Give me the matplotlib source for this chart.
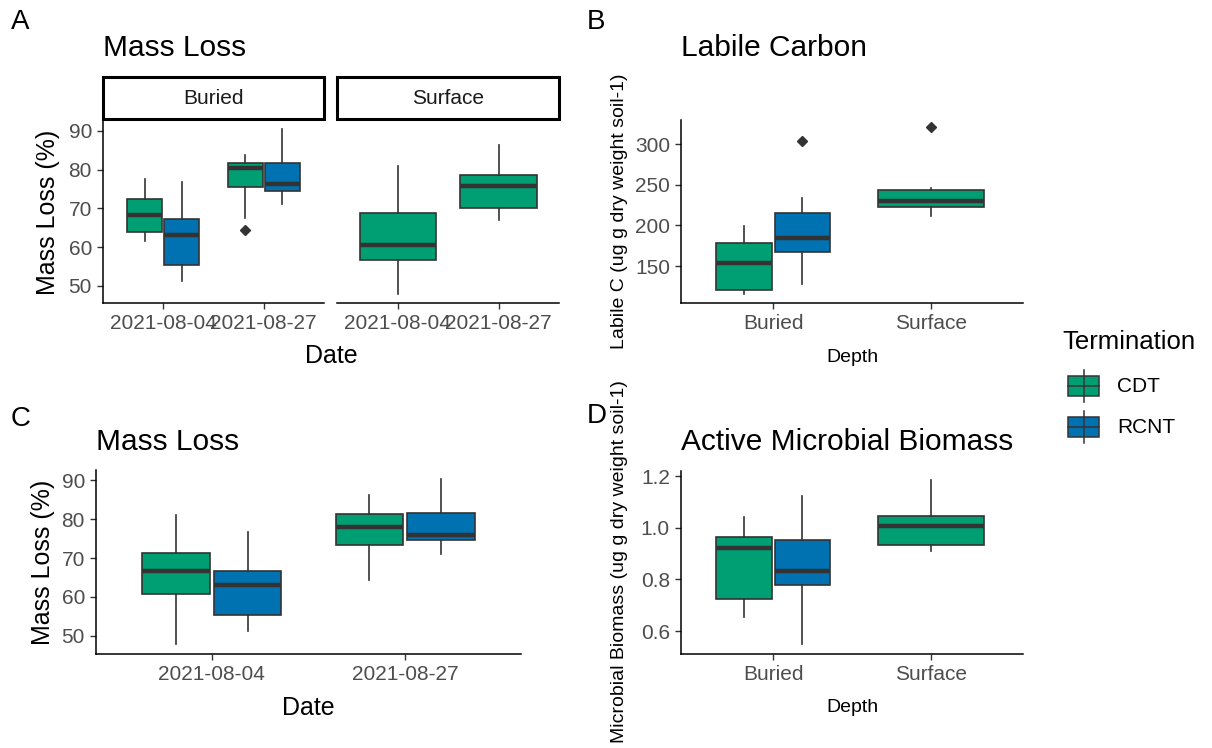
import matplotlib
matplotlib.use("Agg")
import matplotlib.pyplot as plt
from matplotlib.patches import Rectangle

plt.rcParams['font.family'] = ['Liberation Sans', 'DejaVu Sans']

W, H = 1212, 748
GREEN = '#009E73'
BLUE = '#0072B2'
EDGE = '#333333'
TICKTXT = '#4D4D4D'
TICKSIZE = 15

dates = ['2021-08-04', '2021-08-27']
depths = ['Buried', 'Surface']
terms = ['CDT', 'RCNT']

# five number summaries: [whisker low, q1, median, q3, whisker high]
# A - mass loss faceted by depth
a_buried_cdt = [[61.6, 63.8, 68.4, 72.5, 77.6], [67.4, 75.5, 80.3, 81.7, 83.8]]
a_buried_cdt_out = [[], [64.4]]
a_buried_rcnt = [[51.3, 55.4, 63.0, 67.2, 76.8], [71.2, 74.6, 76.3, 81.7, 90.6]]
a_surface_cdt = [[47.9, 56.7, 60.5, 68.8, 81.0], [66.9, 70.1, 75.8, 78.7, 86.4]]

# B - labile carbon by depth
b_cdt = [[115.5, 120.1, 153.7, 178.3, 198.8], [211.9, 222.6, 230.4, 244.0, 246.0]]
b_cdt_out = [[], [320.9]]
b_rcnt = [[127.4, 167.6, 184.5, 215.3, 234.2]]
b_rcnt_out = [[304.4]]

# C - mass loss pooled
c_cdt = [[47.8, 60.8, 66.7, 71.3, 81.1], [64.3, 73.3, 78.0, 81.3, 86.3]]
c_rcnt = [[51.2, 55.4, 63.0, 66.7, 76.8], [71.0, 74.6, 76.0, 81.7, 90.3]]

# D - active microbial biomass by depth
d_cdt = [[0.653, 0.725, 0.921, 0.965, 1.043], [0.911, 0.933, 1.008, 1.045, 1.185]]
d_rcnt = [[0.548, 0.777, 0.832, 0.952, 1.123]]


def stats(five, out=()):
    lo, q1, med, q3, hi = five
    return dict(whislo=lo, q1=q1, med=med, q3=q3, whishi=hi, fliers=list(out))


def boxes(ax, pos, fives, color, width, outs=None):
    if outs is None:
        outs = [[] for _ in fives]
    st = [stats(f, o) for f, o in zip(fives, outs)]
    ax.bxp(st, positions=pos, widths=width, patch_artist=True, showcaps=False,
           boxprops=dict(facecolor=color, edgecolor=EDGE, linewidth=1.2),
           medianprops=dict(color=EDGE, linewidth=3.2, solid_capstyle='butt'),
           whiskerprops=dict(color=EDGE, linewidth=1.2),
           flierprops=dict(marker='D', markersize=5.5, markerfacecolor=EDGE,
                           markeredgecolor=EDGE),
           manage_ticks=False)


fig = plt.figure(figsize=(W / 100, H / 100), dpi=100)


def px_axes(x0, y0, x1, y1):
    return fig.add_axes([x0 / W, 1 - y1 / H, (x1 - x0) / W, (y1 - y0) / H])


def ftext(x, y, s, **kw):
    fig.text(x / W, 1 - y / H, s, **kw)


def style(ax, labels, xlim, ylim, yticks, left=True):
    for s in ['top', 'right']:
        ax.spines[s].set_visible(False)
    ax.spines['bottom'].set_linewidth(1.1)
    ax.spines['left'].set_linewidth(1.1)
    ax.set_xlim(*xlim)
    ax.set_ylim(*ylim)
    ax.set_xticks(range(1, len(labels) + 1))
    ax.set_xticklabels(labels)
    ax.set_yticks(yticks)
    ax.tick_params(length=4, width=1, color=EDGE, labelcolor=TICKTXT,
                   labelsize=TICKSIZE, pad=4)
    if not left:
        ax.spines['left'].set_visible(False)
        ax.tick_params(axis='y', left=False, labelleft=False)


off, bw = 0.185, 0.35
xr = (0.4, 2.6)
pos2 = [1, 2]

# ---- A ----
axA1 = px_axes(103, 120, 324, 303.3)
boxes(axA1, [p - off for p in pos2], a_buried_cdt, GREEN, bw, a_buried_cdt_out)
boxes(axA1, [p + off for p in pos2], a_buried_rcnt, BLUE, bw)
style(axA1, dates, xr, (45.5, 92.8), [50, 60, 70, 80, 90])

axA2 = px_axes(337.3, 120, 559.3, 303.3)
boxes(axA2, pos2, a_surface_cdt, GREEN, 0.76)
style(axA2, dates, xr, (45.5, 92.8), [50, 60, 70, 80, 90], left=False)

for (x0, x1), name in zip([(103, 324), (337.3, 559.3)], depths):
    fig.patches.append(Rectangle((x0 / W, 1 - 119 / H), (x1 - x0) / W, 42 / H,
                                 transform=fig.transFigure, facecolor='white',
                                 edgecolor='black', linewidth=2.2))
    ftext((x0 + x1) / 2, 99, name, ha='center', va='center', fontsize=15, color='#1A1A1A')

ftext(11, 22, 'A', fontsize=20, va='center')
ftext(103, 48, 'Mass Loss', fontsize=21.5, va='center')
ftext(48, 212, 'Mass Loss (%)', fontsize=18, rotation=90, ha='center', va='center')
ftext(331, 356, 'Date', fontsize=18, ha='center', va='center')

# ---- B ----
axB = px_axes(681, 120, 1023, 302.7)
boxes(axB, [1 - off, 2], b_cdt, GREEN, [bw, 0.67], b_cdt_out)
boxes(axB, [1 + off], b_rcnt, BLUE, bw, b_rcnt_out)
style(axB, depths, (0.415, 2.585), (104.8, 329.9), [150, 200, 250, 300])
ftext(587, 22, 'B', fontsize=20, va='center')
ftext(681, 48, 'Labile Carbon', fontsize=21.5, va='center')
ftext(619, 211, 'Labile C (ug g dry weight soil-1)', fontsize=14, rotation=90,
      ha='center', va='center')
ftext(852, 357, 'Depth', fontsize=14, ha='center', va='center')

# ---- C ----
axC = px_axes(96, 470, 521, 654)
boxes(axC, [p - off for p in pos2], c_cdt, GREEN, bw)
boxes(axC, [p + off for p in pos2], c_rcnt, BLUE, bw)
style(axC, dates, xr, (45.3, 92.65), [50, 60, 70, 80, 90])
ftext(11, 419, 'C', fontsize=20, va='center')
ftext(96, 442, 'Mass Loss', fontsize=21.5, va='center')
ftext(43, 562, 'Mass Loss (%)', fontsize=18, rotation=90, ha='center', va='center')
ftext(308, 708, 'Date', fontsize=18, ha='center', va='center')

# ---- D ----
axD = px_axes(681, 470.7, 1023, 654)
boxes(axD, [1 - off, 2], d_cdt, GREEN, [bw, 0.67])
boxes(axD, [1 + off], d_rcnt, BLUE, bw)
style(axD, depths, (0.415, 2.585), (0.511, 1.2206), [0.6, 0.8, 1.0, 1.2])
axD.set_yticklabels(['0.6', '0.8', '1.0', '1.2'])
ftext(587, 416, 'D', fontsize=20, va='center')
ftext(681, 442, 'Active Microbial Biomass', fontsize=21.5, va='center')
ftext(619, 562, 'Microbial Biomass (ug g dry weight soil-1)', fontsize=14, rotation=90,
      ha='center', va='center')
ftext(852, 708, 'Depth', fontsize=14, ha='center', va='center')

# ---- legend ----
ftext(1062, 342, 'Termination', fontsize=18.5, va='center')
axL = px_axes(1060, 360, 1212, 450)
axL.set_xlim(1060, 1212)
axL.set_ylim(450, 360)
axL.axis('off')
for yc, col, lab in zip([386, 427], [GREEN, BLUE], terms):
    axL.plot([1083.5, 1083.5], [yc - 16, yc + 16], color=EDGE, lw=1.1)
    axL.add_patch(Rectangle((1068, yc - 10), 31, 20, facecolor=col, edgecolor=EDGE, lw=1.1))
    axL.plot([1068, 1099], [yc, yc], color=EDGE, lw=1.1)
    axL.text(1117, yc, lab, fontsize=15, va='center')

fig.savefig('out.png', dpi=100)
